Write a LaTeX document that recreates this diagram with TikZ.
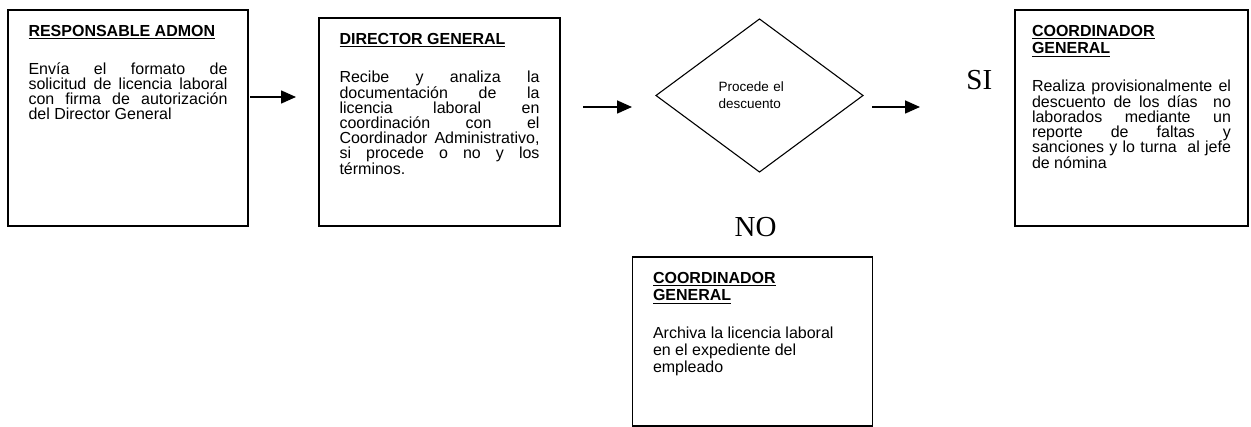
\documentclass[tikz,border=0pt]{standalone}
\usepackage{fontspec}
\setmainfont{Liberation Sans}
\newfontfamily\romana{Liberation Serif}
\usetikzlibrary{positioning,shapes.geometric,arrows.meta}
\newcommand{\subr}[1]{\leavevmode\vtop{\hbox{#1}\kern1.8pt\hrule height 1.2pt}}
\newcommand{\just}[1]{\makebox[\linewidth][s]{#1}}

\begin{document}
\begin{tikzpicture}[x=1pt,y=1pt,->,>={Triangle[length=15pt,width=13pt]},line width=1.6pt,
                caja/.style={draw,rectangle,line width=1.8pt,inner xsep=20.5pt,inner ysep=15pt,outer sep=0pt,font=\fontsize{16}{15}\selectfont},
                decision/.style={draw,diamond,line width=1.1pt,minimum width=207pt,minimum height=153pt,inner sep=0pt,outer sep=0pt,text width=82pt,align=left,font=\fontsize{13.5}{17}\selectfont},
                rama/.style={inner sep=0pt,font=\romana\fontsize{29}{29}\selectfont}]
                \useasboundingbox (0,0) rectangle (1251,-427);
                \node[caja] (resp) at (128,-118) {\parbox[c][186pt][t]{199pt}{{\bfseries\subr{RESPONSABLE ADMON}}\\[23pt]
                    \just{Envía el formato de}\\
                    \just{solicitud de licencia laboral}\\
                    \just{con firma de autorización}\\
                    del Director General}};
                \node[caja] (dir) [right=71pt of resp, yshift=-4pt] {\parbox[c][178pt][t]{200pt}{{\bfseries\subr{DIRECTOR GENERAL}}\\[23pt]
                    \just{Recibe y analiza la}\\
                    \just{documentación de la}\\
                    \just{licencia laboral en}\\
                    \just{coordinación con el}\\
                    \just{Coordinador Administrativo,}\\
                    \just{si procede o no y los}\\
                    términos.}};
                \node[decision] (dec) [right=96pt of dir, yshift=26.5pt] {Procede el\\descuento};
                \node[caja,inner xsep=17pt] (coord) [right=152pt of dec, yshift=-22.5pt] {\parbox[c][186pt][t]{199pt}{{\bfseries\subr{COORDINADOR}\\[2.5pt]\subr{GENERAL}}\\[23pt]
                    \just{Realiza provisionalmente el}\\
                    \just{descuento de los días\ \ no}\\
                    \just{laborados mediante un}\\
                    \just{reporte de faltas y}\\
                    \just{sanciones y lo turna\ \ al jefe}\\
                    de nómina}};
                \node[caja,font=\fontsize{16}{16.7}\selectfont] (archivo) [below=85pt of dec, xshift=-7pt] {\parbox[c][139pt][t]{199pt}{{\bfseries\subr{COORDINADOR}\\[0.8pt]\subr{GENERAL}}\\[21.3pt]
                    Archiva la licencia laboral\\
                    en el expediente del\\
                    empleado}};
                \node[rama] (si) [left=22pt of coord, yshift=37.5pt] {SI};
                \node[rama] (no) [above=19pt of archivo, xshift=3pt] {NO};
                \draw[shorten <=2pt,shorten >=23pt] ([yshift=21pt]resp.east) -- ([yshift=21pt]resp.east -| dir.west);
                \draw[shorten <=23pt,shorten >=24pt] ([yshift=15pt]dir.east) -- ([yshift=15pt]dir.east -| dec.west);
                \draw[shorten <=9pt,shorten >=95pt] ([yshift=-11.5pt]dec.east) -- ([yshift=-11.5pt]dec.east -| coord.west);
            \end{tikzpicture}
\end{document}
